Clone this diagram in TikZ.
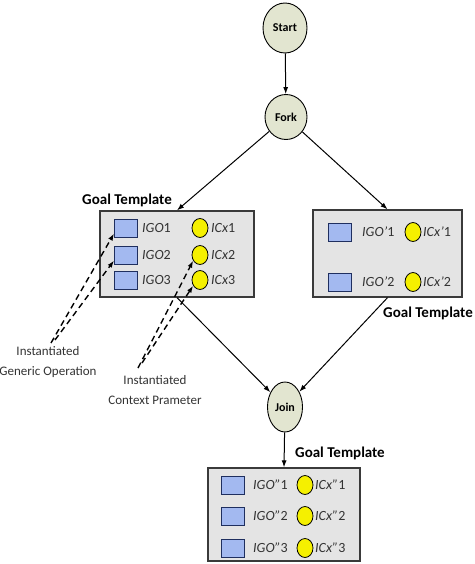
\documentclass[tikz,border=0pt]{standalone}
\usepackage{fontspec}
\setmainfont{Carlito}
\usetikzlibrary{arrows.meta}
\usetikzlibrary{shapes.geometric}
\definecolor{statefill}{HTML}{E2E5D0}
\definecolor{tmplfill}{HTML}{E4E4E4}
\definecolor{tmpldraw}{HTML}{3A3A3A}
\definecolor{igofill}{HTML}{A3B9F0}
\definecolor{igodraw}{HTML}{1F2F5F}
\definecolor{icxfill}{HTML}{F5F000}

\begin{document}
\begin{tikzpicture}[x=1pt,y=-1pt,>={Latex[length=7pt,width=5pt]},
  state/.style={ellipse,draw,fill=statefill,line width=0.9pt,inner sep=0pt,font=\fontsize{12}{14}\selectfont\bfseries},
  tmpl/.style={draw=tmpldraw,fill=tmplfill,line width=1.3pt,inner sep=0pt},
  igo/.style={draw=igodraw,fill=igofill,line width=1pt,minimum width=23pt,minimum height=18pt,inner sep=0pt},
  icx/.style={ellipse,draw,fill=icxfill,line width=0.8pt,minimum width=16pt,minimum height=19pt,inner sep=0pt},
  lbl/.style={anchor=west,inner sep=0pt,text=black!80,font=\fontsize{14}{16}\selectfont},
  title/.style={inner sep=0pt,font=\fontsize{15}{17}\selectfont\bfseries},
  note/.style={align=center,inner sep=0pt,text=black!80,font=\fontsize{13}{20}\selectfont},
  flow/.style={->,line width=1pt},
  hint/.style={->,line width=1.4pt,dash pattern=on 6pt off 4pt}]
\useasboundingbox (0,0) rectangle (474,564);

\node[state,minimum width=44pt,minimum height=50pt](start) at (285,28) {Start};
\node[state,minimum width=42pt,minimum height=45pt](fork) at (286,117) {Fork};
\node[state,minimum width=35pt,minimum height=50pt](join) at (285,407) {Join};

\node[tmpl,minimum width=154pt,minimum height=86pt](ltmpl) at (177,254) {};
\node[tmpl,minimum width=149pt,minimum height=87pt](rtmpl) at (387.5,253.5) {};
\node[tmpl,minimum width=152pt,minimum height=93pt](btmpl) at (284,514.5) {};

\node[title](ltitle) at (127,200) {Goal Template};
\node[title](rtitle) at (428,313) {Goal Template};
\node[title,anchor=west](btitle) at (295,453) {Goal Template};

\node[igo](igo1) at (126,228) {};
\node[igo](igo2) at (126,255) {};
\node[igo](igo3) at (126,280) {};
\node[lbl](tigo1) at (142,228) {\textit{IGO}1};
\node[lbl](tigo2) at (142,255) {\textit{IGO}2};
\node[lbl](tigo3) at (142,280) {\textit{IGO}3};
\node[icx](icx1) at (200,228) {};
\node[icx](icx2) at (200,255) {};
\node[icx](icx3) at (200,280) {};
\node[lbl](ticx1) at (211,228) {\textit{ICx}1};
\node[lbl](ticx2) at (211,255) {\textit{ICx}2};
\node[lbl](ticx3) at (211,280) {\textit{ICx}3};

\node[igo](igoa1) at (340,232) {};
\node[igo](igoa2) at (340,282) {};
\node[lbl](tigoa1) at (362,232) {\textit{IGO'}1};
\node[lbl](tigoa2) at (362,282) {\textit{IGO'}2};
\node[icx](icxa1) at (413,232) {};
\node[icx](icxa2) at (413,282) {};
\node[lbl](ticxa1) at (423,232) {\textit{ICx'}1};
\node[lbl](ticxa2) at (423,282) {\textit{ICx'}2};

\node[igo](igob1) at (233,485) {};
\node[igo](igob2) at (233,516) {};
\node[igo](igob3) at (233,548) {};
\node[lbl](tigob1) at (253,485) {\textit{IGO''}1};
\node[lbl](tigob2) at (253,516) {\textit{IGO''}2};
\node[lbl](tigob3) at (253,548) {\textit{IGO''}3};
\node[icx](icxb1) at (305,485) {};
\node[icx](icxb2) at (305,516) {};
\node[icx](icxb3) at (305,548) {};
\node[lbl](ticxb1) at (315,485) {\textit{ICx''}1};
\node[lbl](ticxb2) at (315,516) {\textit{ICx''}2};
\node[lbl](ticxb3) at (315,548) {\textit{ICx''}3};

\node[note](genop) at (48,362) {Instantiated\\Generic Operation};
\node[note](ctxpar) at (155,390) {Instantiated\\Context Prameter};
\coordinate (genop1) at (51,343);
\coordinate (genop2) at (55,340);
\coordinate (ctxpar1) at (138,368);
\coordinate (ctxpar2) at (142,363);

\draw[flow] (start) -- (fork);
\draw[flow] (fork) -- (ltmpl.north);
\draw[flow] (fork) -- (rtmpl.north);
\draw[flow] (ltmpl.south) -- (join);
\draw[flow] (rtmpl.south) -- (join);
\draw[flow] (join) -- (btmpl.north);

\draw[hint] (genop1) -- (igo1.205);
\draw[hint] (genop2) -- (igo2.205);
\draw[hint] (ctxpar1) -- (icx2.220);
\draw[hint] (ctxpar2) -- (icx3.220);
\end{tikzpicture}
\end{document}
